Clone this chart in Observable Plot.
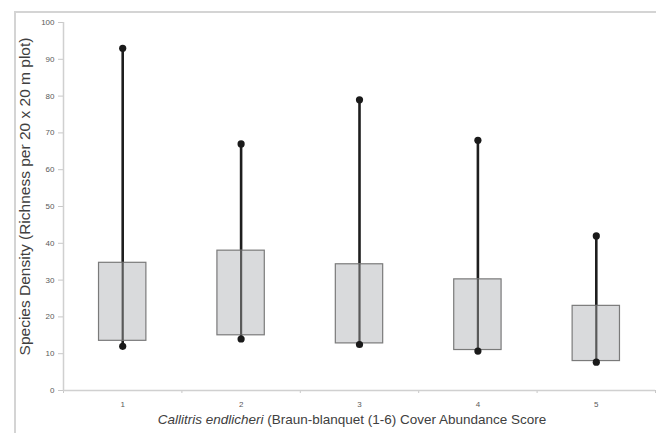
<!DOCTYPE html>
<html>
<head>
<meta charset="utf-8">
<script src="https://cdn.jsdelivr.net/npm/d3@7"></script>
<script src="https://cdn.jsdelivr.net/npm/@observablehq/plot@0.6"></script>
<style>
  html, body { margin: 0; padding: 0; background: #fff; }
  #wrap { position: relative; width: 656px; height: 433px; overflow: hidden; }
  #frame { position: absolute; left: 14px; top: 11px; width: 650px; height: 430px;
           border-left: 2px solid #d4d4d4; border-top: 2px solid #d4d4d4; }
  #chart { position: absolute; left: 0; top: 0; }
  #caption { position: absolute; left: 0; top: 412px; width: 656px; height: 21px;
             line-height: 21px; font: 13.5px "Liberation Sans", Arial, sans-serif; color: #404040;
             text-align: center; padding-left: 48px; box-sizing: border-box; }
</style>
</head>
<body>
<div id="wrap">
  <div id="frame"></div>
  <div id="chart"></div>
  <div id="caption"><i>Callitris endlicheri</i> (Braun-blanquet (1-6) Cover Abundance Score</div>
</div>
<script>
const categories = [1, 2, 3, 4, 5];
const minValues = [12, 14, 12.5, 10.7, 7.7];
const q1Values = [13.5, 15, 12.8, 11, 8];
const q3Values = [34.7, 38, 34.3, 30.2, 23];
const maxValues = [93, 67, 79, 68, 42];
const yTicks = [0, 10, 20, 30, 40, 50, 60, 70, 80, 90, 100];
const yLabel = "Species Density (Richness per 20 x 20 m plot)";

const rows = categories.map((c, i) => ({
  cat: c, min: minValues[i], q1: q1Values[i], q3: q3Values[i], max: maxValues[i]
}));
const halfBox = 0.2;
const boundaries = d3.range(0.5, categories.length + 1, 1);

const chart = Plot.plot({
  width: 656,
  height: 412,
  marginLeft: 63,
  marginRight: 1,
  marginTop: 22,
  marginBottom: 22,
  style: { fontFamily: "Liberation Sans, Arial, sans-serif", fontSize: "8px", color: "#595959", background: "transparent", overflow: "visible" },
  x: { type: "linear", domain: [0.5, categories.length + 0.5], axis: null },
  y: { type: "linear", domain: [0, 100], axis: null },
  marks: [
    Plot.axisX({ ticks: boundaries, tickSize: 3, tickFormat: () => "", stroke: "#c8c8c8", label: null }),
    Plot.axisX({ ticks: categories, tickSize: 0, tickPadding: 11, fill: "#595959", fontSize: 8, tickFormat: d => String(d), label: null }),
    Plot.axisY({ ticks: yTicks, tickSize: 5, tickPadding: 4, stroke: "#c8c8c8", fill: "#595959", fontSize: 8, label: null }),
    Plot.ruleY([0], { stroke: "#d0d0d0", strokeWidth: 1.5 }),
    Plot.ruleX([0.5], { stroke: "#d0d0d0", strokeWidth: 1.5 }),
    Plot.ruleX(rows, { x: "cat", y1: "min", y2: "max", stroke: "#1e1e1e", strokeWidth: 2.6 }),
    Plot.rect(rows, { x1: d => d.cat - halfBox, x2: d => d.cat + halfBox, y1: "q1", y2: "q3",
                      fill: "#d9dadc", stroke: "#7a7a7a", strokeWidth: 1.2 }),
    Plot.ruleX(rows, { x: "cat", y1: "q1", y2: "q3", stroke: "#5a5a5a", strokeWidth: 2.2 }),
    Plot.dot(rows, { x: "cat", y: "min", r: 3.6, fill: "#1a1a1a" }),
    Plot.dot(rows, { x: "cat", y: "max", r: 3.6, fill: "#1a1a1a" }),
    Plot.text([yLabel], { frameAnchor: "left", textAnchor: "middle", dx: -38, dy: -10, rotate: -90,
                          fontSize: 15.5, fill: "#404040", fontFamily: "Liberation Sans, Arial, sans-serif" })
  ]
});
document.getElementById("chart").appendChild(chart);
</script>
</body>
</html>
